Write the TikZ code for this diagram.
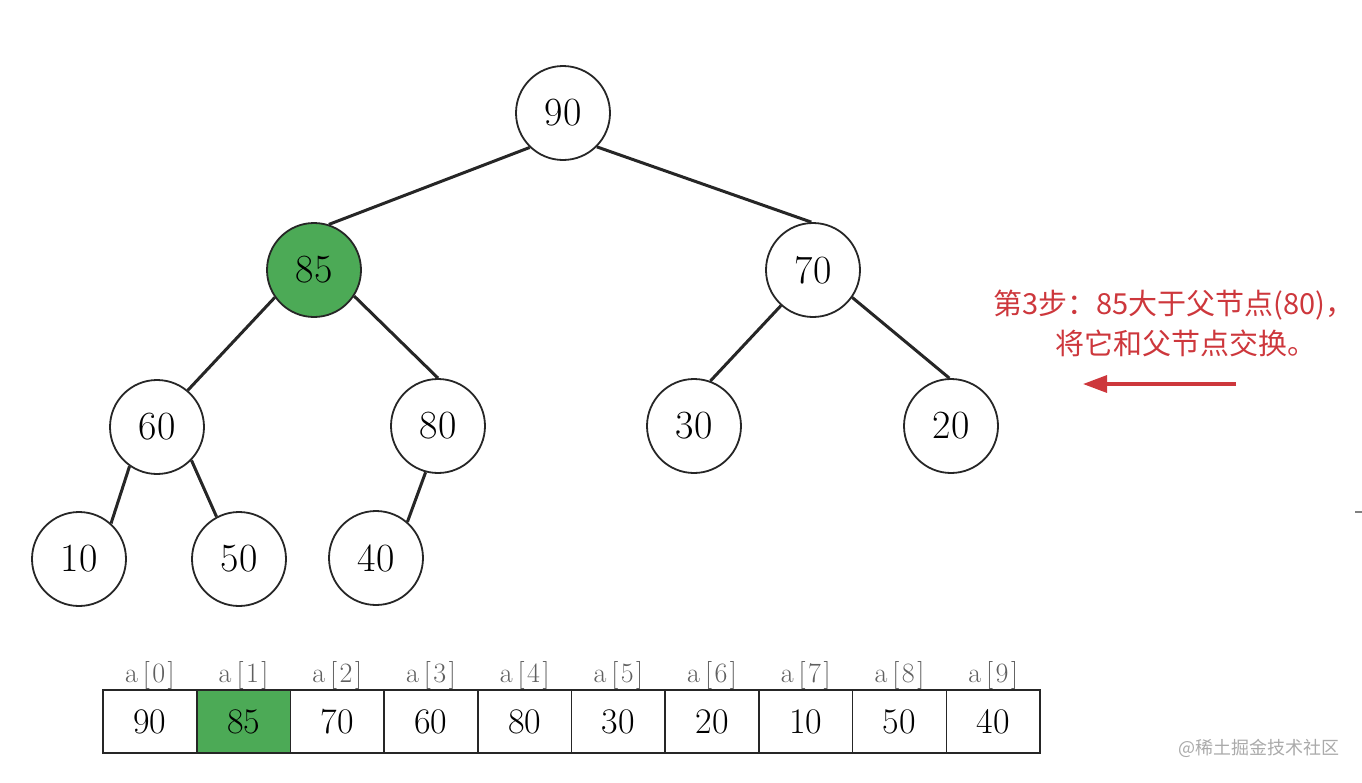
\documentclass[tikz,border=0pt]{standalone}
\usepackage{fontspec}
\newfontfamily\cjk{Noto Sans CJK SC}
\usetikzlibrary{arrows.meta}
\definecolor{hgreen}{RGB}{76,170,86}
\definecolor{hred}{RGB}{205,55,60}
\definecolor{lblgray}{RGB}{95,95,95}
\definecolor{wmgray}{RGB}{170,170,170}
\newcommand{\arrlbl}[1]{a\kern5pt[\kern2.5pt#1\kern2.5pt]}
\begin{document}
\begin{tikzpicture}[x=1pt,y=-1pt,
  tn/.style={circle,draw=black!85,line width=1.8pt,minimum size=94pt,inner sep=0pt,
    font=\fontsize{40}{40}\selectfont,fill=white},
  hl/.style={fill=hgreen},
  edge/.style={line width=3pt,draw=black!85},
  cell/.style={draw=black!85,line width=1.6pt,minimum width=93.7pt,minimum height=63pt,
    inner sep=0pt,font=\fontsize{36}{36}\selectfont},
  lbl/.style={font=\fontsize{28}{28}\selectfont,text=lblgray,inner sep=0pt},
  note/.style={font=\cjk\fontsize{29}{29}\selectfont,text=hred,inner sep=0pt},
  redarrow/.style={draw=hred,line width=3.2pt,-{Triangle[length=24pt,width=17pt]}}]
\useasboundingbox (0,0) rectangle (1362,782);
% tree nodes
\node[tn] (n90) at (563,113) {90};
\node[tn,hl] (n85) at (314,270) {85};
\node[tn] (n70) at (813,270) {70};
\node[tn] (n60) at (157,427) {60};
\node[tn] (n80) at (438,426) {80};
\node[tn] (n30) at (694,426) {30};
\node[tn] (n20) at (951,426) {20};
\node[tn] (n10) at (79,559) {10};
\node[tn] (n50) at (239,559) {50};
\node[tn] (n40) at (376,558) {40};
% edges
\draw[edge] (n90.226) -- (n85.72);
\draw[edge] (n90.315) -- (n70.92);
\draw[edge] (n85.215) -- (n60.50);
\draw[edge] (n85.327) -- (n80.90);
\draw[edge] (n70.228) -- (n30.70);
\draw[edge] (n70.325) -- (n20.92);
\draw[edge] (n60.235) -- (n10.48);
\draw[edge] (n60.316) -- (n50.118);
\draw[edge] (n80.255) -- (n40.49);
% array
\foreach \i/\v/\f in {0/90/white,1/85/hgreen,2/70/white,3/60/white,4/80/white,5/30/white,6/20/white,7/10/white,8/50/white,9/40/white}{
  \node[cell,fill=\f] (c\i) at ({103+93.7*\i+46.85},721.5) {\v};
  \node[lbl] (l\i) at ({103+93.7*\i+46.85},675) {\arrlbl{\i}};
}
% note
\node[note,anchor=west] (t1) at (993,305) {第3步：85大于父节点(80)，};
\node[note] (t2) at (1186,343) {将它和父节点交换。};
\coordinate (as) at (1236,384);
\coordinate (ae) at (1083,384);
\draw[redarrow] (as) -- (ae);
% watermark and edge mark
\node[font=\cjk\fontsize{18}{18}\selectfont,text=wmgray,inner sep=0pt] (wm) at (1259,748) {@稀土掘金技术社区};
\coordinate (m1) at (1355,512);
\coordinate (m2) at (1362,512);
\draw[gray,line width=1.5pt] (m1) -- (m2);
\end{tikzpicture}
\end{document}
